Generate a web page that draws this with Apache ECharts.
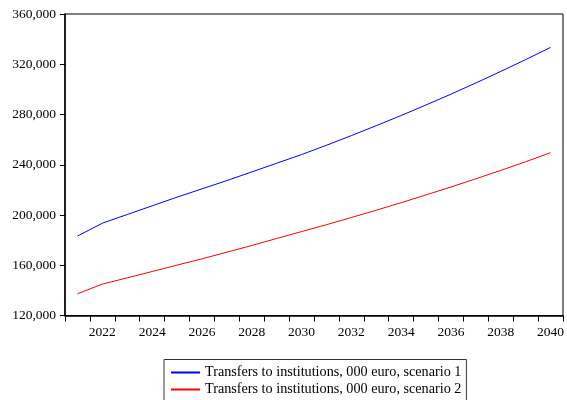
<!DOCTYPE html>
<html>
<head>
<meta charset="utf-8">
<script src="https://cdn.jsdelivr.net/npm/echarts@6/dist/echarts.min.js"></script>
<style>
html,body{margin:0;padding:0;background:#fff;}
#chart{width:567px;height:400px;}
</style>
</head>
<body>
<div id="chart"></div>
<script>
var years = ['2021','2022','2023','2024','2025','2026','2027','2028','2029','2030',
             '2031','2032','2033','2034','2035','2036','2037','2038','2039','2040'];
var scenario1 = [183200,193500,200400,207300,214200,220800,227400,234300,241200,248100,
                 255500,263200,271100,279200,287600,296200,305100,314300,323700,333400];
var scenario2 = [137300,145000,150000,155000,160100,165100,170400,175700,181300,186800,
                 192300,198000,203800,209800,216000,222300,228800,235500,242400,249600];
var seriesNames = ['Transfers to institutions, 000 euro, scenario 1',
                   'Transfers to institutions, 000 euro, scenario 2'];
var yMin = 120000, yMax = 360000, yStep = 40000;

var font = 'Liberation Serif';
var chart = echarts.init(document.getElementById('chart'), null, {renderer:'canvas'});
chart.setOption({
  animation: false,
  backgroundColor: '#ffffff',
  grid: {left: 65, top: 14, right: 1.5, bottom: 84.5, show: true, borderColor: '#000', borderWidth: 1, containLabel: false},
  legend: {
    orient: 'vertical', left: 164, top: 359.5, height: 80,
    padding: [6, 5, 6, 7], itemGap: 3,
    itemWidth: 29, itemHeight: 2, icon: 'rect',
    borderColor: '#333', borderWidth: 1,
    textStyle: {fontFamily: font, fontSize: 14.2, color: '#000', lineHeight: 14},
    data: seriesNames
  },
  xAxis: {
    type: 'category', data: years, boundaryGap: true,
    axisLine: {lineStyle: {color: '#000', width: 1.5}},
    axisTick: {show: true, interval: 0, length: 6, lineStyle: {color: '#000'}},
    axisLabel: {interval: function(i){return i % 2 === 1;}, margin: 10, fontFamily: font, fontSize: 13.5, color: '#000'},
    splitLine: {show: false}
  },
  yAxis: {
    type: 'value', min: yMin, max: yMax, interval: yStep,
    axisLine: {show: true, lineStyle: {color: '#000', width: 1.5}},
    axisTick: {show: true, length: 5, lineStyle: {color: '#000'}},
    axisLabel: {margin: 9, fontFamily: font, fontSize: 13.5, color: '#000',
      formatter: function(v){return v.toLocaleString('en-US');}},
    splitLine: {show: false}
  },
  series: [
    {name: seriesNames[0], type: 'line', data: scenario1, symbol: 'none',
     lineStyle: {color: '#0000ff', width: 1}, itemStyle: {color: '#0000ff'}},
    {name: seriesNames[1], type: 'line', data: scenario2, symbol: 'none',
     lineStyle: {color: '#ff0000', width: 1}, itemStyle: {color: '#ff0000'}}
  ]
});
</script>
</body>
</html>
